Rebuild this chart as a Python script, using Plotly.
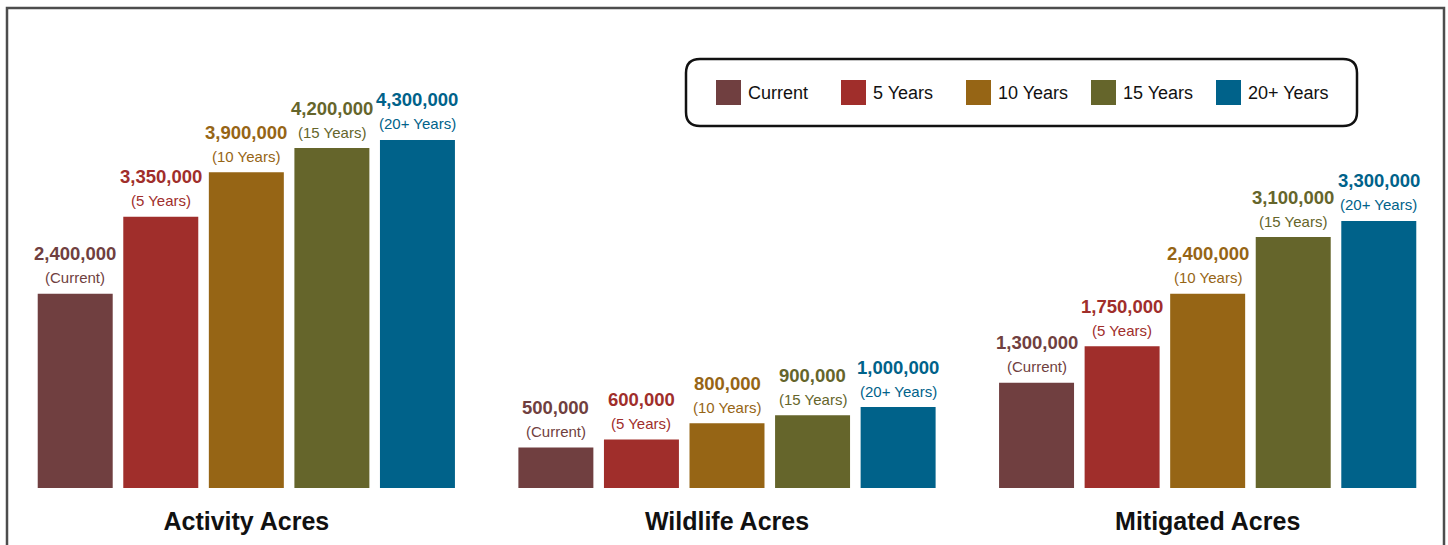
import plotly.graph_objects as go

# ---- data ----
groups = ["Activity Acres", "Wildlife Acres", "Mitigated Acres"]
periods = ["Current", "5 Years", "10 Years", "15 Years", "20+ Years"]
colors = ["#703F40", "#A02E2B", "#966515", "#65652B", "#00628A"]
activity = [2400000, 3350000, 3900000, 4200000, 4300000]
wildlife = [500000, 600000, 800000, 900000, 1000000]
mitigated = [1300000, 1750000, 2400000, 3100000, 3300000]

# ---- layout constants ----
W, H = 1448, 545
ML, MR, MT, MB = 6, 0, 8, 57
PW, PH = W - ML - MR, H - MT - MB
STEP = 0.178        # spacing between bars inside a group (x units)
BAR_W = 0.156       # bar width (x units)
SANS = "Liberation Sans, Arial, Helvetica, sans-serif"


def px_x(px):
    return (px - ML) / PW


def px_y(py):
    return (H - MB - py) / PH


fig = go.Figure()
series = [list(v) for v in zip(activity, wildlife, mitigated)]
annotations = []
for p, (name, col, vals) in enumerate(zip(periods, colors, series)):
    xs = [g + (p - 2) * STEP for g in range(len(groups))]
    fig.add_trace(go.Bar(x=xs, y=vals, width=BAR_W, name=name,
                         marker=dict(color=col, line=dict(width=0)),
                         showlegend=False, hoverinfo="skip"))
    for x, v in zip(xs, vals):
        annotations.append(dict(x=x, y=v, xref="x", yref="y", text=f"<b>{v:,}</b>",
                                showarrow=False, yanchor="middle", yshift=40,
                                font=dict(family=SANS, size=18.5, color=col)))
        annotations.append(dict(x=x, y=v, xref="x", yref="y", text=f"({name})",
                                showarrow=False, yanchor="middle", yshift=16,
                                font=dict(family=SANS, size=15, color=col)))

# ---- legend drawn as a rounded box with swatches ----
shapes = []
bx0, bx1, by0, by1, r = 686, 1357, 59, 126, 14
rx, ry = r / PW, r / PH
X0, X1, Y0, Y1 = px_x(bx0), px_x(bx1), px_y(by1), px_y(by0)
path = (f"M{X0 + rx},{Y1} L{X1 - rx},{Y1} Q{X1},{Y1} {X1},{Y1 - ry} "
        f"L{X1},{Y0 + ry} Q{X1},{Y0} {X1 - rx},{Y0} L{X0 + rx},{Y0} "
        f"Q{X0},{Y0} {X0},{Y0 + ry} L{X0},{Y1 - ry} Q{X0},{Y1} {X0 + rx},{Y1} Z")
shapes.append(dict(type="path", xref="paper", yref="paper", path=path,
                   line=dict(color="#111111", width=2.5), fillcolor="white", layer="below"))
for i, (name, col) in enumerate(zip(periods, colors)):
    sx = 716 + i * 125
    shapes.append(dict(type="rect", xref="paper", yref="paper",
                       x0=px_x(sx), x1=px_x(sx + 25), y0=px_y(105), y1=px_y(80),
                       fillcolor=col, line=dict(width=0)))
    annotations.append(dict(x=px_x(sx + 30), y=px_y(93), xref="paper", yref="paper",
                            text=name, showarrow=False, xanchor="left", yanchor="middle",
                            font=dict(family=SANS, size=18, color="#111111")))

# ---- outer frame ----
shapes.append(dict(type="rect", xref="paper", yref="paper",
                   x0=px_x(7), x1=px_x(1444), y0=-0.3, y1=1.0,
                   line=dict(color="#4d4d4d", width=2.5)))

fig.update_layout(
    width=W, height=H, autosize=False,
    margin=dict(l=ML, r=MR, t=MT, b=MB),
    plot_bgcolor="white", paper_bgcolor="white",
    barmode="overlay",
    xaxis=dict(range=[-0.5, 2.5], tickvals=list(range(len(groups))), ticktext=groups,
               showgrid=False, zeroline=False, showline=False, ticks="",
               ticklabelstandoff=16,
               tickfont=dict(family=SANS, size=25, color="#111111", weight="bold")),
    yaxis=dict(range=[0, 5.93e6], visible=False),
    shapes=shapes, annotations=annotations,
)

fig.write_html("out.html")
